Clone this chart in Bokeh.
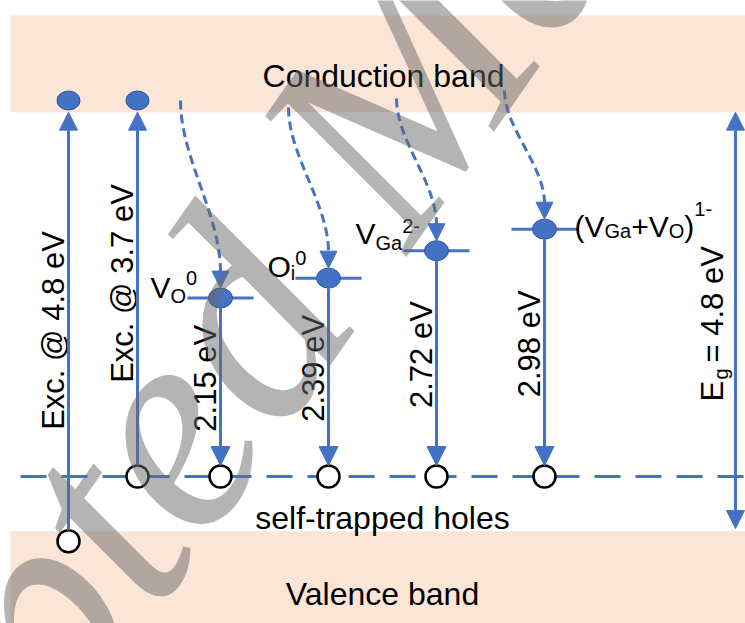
import math
from bokeh.plotting import figure
from bokeh.models import Range1d, Arrow, NormalHead, Label
from bokeh.core.properties import value
from bokeh.embed import file_html
from bokeh.resources import INLINE

# ---------------- data ----------------
defect_names = ["VO0", "Oi0", "VGa2-", "(VGa+VO)1-"]
emission_eV = [2.15, 2.39, 2.72, 2.98]
emission_labels = ["2.15 eV", "2.39 eV", "2.72 eV", "2.98 eV"]
exc_eV = [4.8, 3.7]
exc_labels = ["Exc. @ 4.8 eV", "Exc. @ 3.7 eV"]
band_gap_label_parts = ["E", "g", "= 4.8 eV"]
band_names = ["Conduction band", "Valence band"]
sth_label = "self-trapped holes"
watermark_text = "Accepted Manuscript"
# schematic energies (eV, relative to the self-trapped-hole level)
E_STH = 0.0
E_CB = 4.39
E_VB = -0.66
E_electron = 4.53
E_vb_hole = -0.78
# defect labels as runs: n = normal, b = subscript, p = superscript
defect_label_runs = [
    [("V", "n"), ("O", "b"), ("0", "p")],
    [("O", "n"), ("i", "b"), ("0", "p")],
    [("V", "n"), ("Ga", "b"), ("2-", "p")],
    [("(V", "n"), ("Ga", "b"), ("+V", "n"), ("O", "b"), (")", "n"), ("1-", "p")],
]

# ---------------- layout ----------------
BLUE = "#4472C4"
DOT_LINE = "#2F5597"
PEACH = "#FBE5D6"
FONT = "Liberation Sans"
PX_PER_EV = 83.0
Y_STH_PX = 476.0
W, H = 745, 623


def ey(py):
    return (Y_STH_PX - py) / PX_PER_EV


def dy(px):
    return px / PX_PER_EV


defect_x = [220 + 108 * i for i in range(len(defect_names))]
exc_x = [68, 137]
exc_start = [E_vb_hole, E_STH]
eg_x = 735
curve_start_py = [100, 107, 98, 90]
label_start = [(150, 287), (267, 266), (355, 233), (574, 226)]
sup_shift = [-10, -9, -8, -18]
sub_shift = [8, 6, 9, 4]
exc_label_py = [330, 283]
MAIN_PX, SCRIPT_PX = 30, 20
WIDTHS = {"V": .667, "O": .778, "G": .778, "a": .556, "i": .222, "0": .556, "1": .556,
          "2": .556, "-": .333, "+": .584, "(": .333, ")": .333}

p = figure(width=W, height=H, x_range=Range1d(0, W),
           y_range=Range1d(ey(H), ey(0)), output_backend="svg",
           toolbar_location=None, min_border=0)
p.axis.visible = False
p.grid.visible = False
p.outline_line_color = None
p.background_fill_color = "white"

# bands
p.quad(left=[10, 10], right=[760, 760], bottom=[E_CB, ey(650)], top=[ey(15), E_VB],
       fill_color=PEACH, line_color=None)

# self-trapped hole level (dashed)
p.segment(x0=[20], y0=[E_STH], x1=[760], y1=[E_STH], line_color=BLUE, line_width=3,
          line_dash="26 15")

# defect levels
lev = [E_STH + e for e in emission_eV]
p.segment(x0=[x - 33 for x in defect_x], y0=lev, x1=[x + 33 for x in defect_x], y1=lev,
          line_color=BLUE, line_width=3)

# dashed capture curves
cx0, cy0, cx1, cy1, bx0, by0, bx1, by1 = [], [], [], [], [], [], [], []
for x, e, sp in zip(defect_x, lev, curve_start_py):
    ys = ey(sp)
    ye = e + dy(26)
    h = ys - ye
    bx0.append(x - 40); by0.append(ys)
    bx1.append(x); by1.append(ye)
    cx0.append(x - 40); cy0.append(ys - h / 3)
    cx1.append(x); cy1.append(ys - 2 * h / 3)
p.bezier(x0=bx0, y0=by0, x1=bx1, y1=by1, cx0=cx0, cy0=cy0, cx1=cx1, cy1=cy1,
         line_color=BLUE, line_width=3, line_dash="9 5")

# electrons in CB and on defect levels
p.ellipse(x=exc_x, y=[E_electron] * 2, width=23, height=19, width_units="screen",
          height_units="screen", fill_color=BLUE, line_color=DOT_LINE, line_width=1)
p.ellipse(x=defect_x, y=lev, width=24, height=20, width_units="screen",
          height_units="screen", fill_color=BLUE, line_color=DOT_LINE, line_width=1)

# holes
p.scatter(x=exc_x + defect_x, y=exc_start + [E_STH] * len(defect_x), marker="circle",
          size=22, fill_color="white", line_color="black", line_width=2.5)


# arrows
def head(sz):
    return NormalHead(size=sz, fill_color=BLUE, line_color=BLUE, line_width=1)


for x, e0 in zip(exc_x, exc_start):
    p.add_layout(Arrow(end=head(18), x_start=x, y_start=e0 + dy(11), x_end=x, y_end=E_CB,
                       line_color=BLUE, line_width=3))
for x, e in zip(defect_x, lev):
    p.add_layout(Arrow(end=head(19), x_start=x, y_start=e - dy(10), x_end=x,
                       y_end=E_STH + dy(11), line_color=BLUE, line_width=3))
    p.add_layout(Arrow(end=head(17), x_start=x, y_start=e + dy(30), x_end=x,
                       y_end=e + dy(10), line_color=BLUE, line_width=3, line_alpha=0))
p.add_layout(Arrow(start=head(18), end=head(18), x_start=eg_x, y_start=E_CB, x_end=eg_x,
                   y_end=ey(528), line_color=BLUE, line_width=3))

# horizontal texts
p.text(x=[383, 382, 382], y=[ey(75), ey(517), ey(593)],
       text=[band_names[0], sth_label, band_names[1]], text_font=value(FONT),
       text_font_size="32px", text_align="center", text_baseline="alphabetic",
       text_color="black")

# rotated texts
rx = [x - 15 for x in exc_x] + [x - 15 for x in defect_x]
ry = [ey(v) for v in exc_label_py] + [e / 2 + dy(9) for e in emission_eV]
p.text(x=rx, y=ry, text=exc_labels + emission_labels, angle=math.pi / 2,
       text_font=value(FONT), text_font_size="31px", text_align="center",
       text_baseline="alphabetic", text_color="black")
p.text(x=[712, 712], y=[ey(401), ey(362)], text=[band_gap_label_parts[0], band_gap_label_parts[2]],
       angle=math.pi / 2, text_font=value(FONT), text_font_size="31px",
       text_align="left", text_baseline="alphabetic", text_color="black")
p.text(x=[720], y=[ey(379)], text=[band_gap_label_parts[1]], angle=math.pi / 2,
       text_font=value(FONT), text_font_size="20px", text_align="left",
       text_baseline="alphabetic", text_color="black")

# defect labels with sub/superscripts
nx, ny, nt, sx, sy, st = [], [], [], [], [], []
for runs, (x0, b0), sub, sup in zip(defect_label_runs, label_start, sub_shift, sup_shift):
    x = x0
    for txt, kind in runs:
        if kind == "n":
            nx.append(x); ny.append(ey(b0)); nt.append(txt)
            x += sum(WIDTHS[c] for c in txt) * MAIN_PX
        else:
            sx.append(x); sy.append(ey(b0 + (sub if kind == "b" else sup))); st.append(txt)
            x += sum(WIDTHS[c] for c in txt) * SCRIPT_PX
p.text(x=nx, y=ny, text=nt, text_font=value(FONT), text_font_size=f"{MAIN_PX}px",
       text_align="left", text_baseline="alphabetic", text_color="black")
p.text(x=sx, y=sy, text=st, text_font=value(FONT), text_font_size=f"{SCRIPT_PX}px",
       text_align="left", text_baseline="alphabetic", text_color="black")

# watermark
p.add_layout(Label(x=385, y=ey(110), text=watermark_text, angle=55, angle_units="deg",
                   text_font="Liberation Serif", text_font_style="italic",
                   text_font_size="300px", text_color="#696969", text_alpha=0.5,
                   text_align="center", text_baseline="alphabetic", level="overlay"))

open("out.html", "w").write(file_html(p, INLINE))
